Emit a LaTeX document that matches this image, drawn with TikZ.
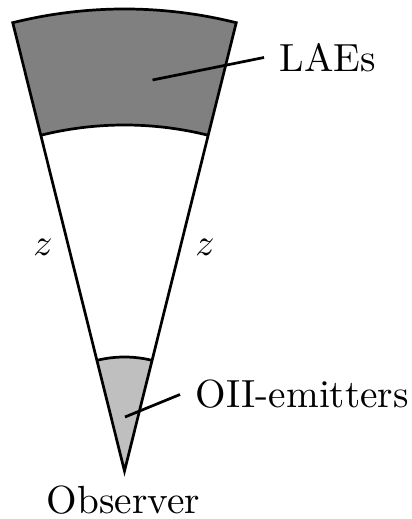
\documentclass[tikz,border=0pt]{standalone}
\begin{document}
\begin{tikzpicture}[x=0.265pt,y=0.265pt,
  edge/.style={line width=0.72pt},
  lbl/.style={inner sep=4pt, font=\fontsize{10.4}{12.5}\selectfont}]
\useasboundingbox (0,0) rectangle (412,519);
\coordinate (A) at (124.5,48);
\begin{scope}[shift={(A)}]
  % LAE shell
  \fill[black!50] (104:462) arc[start angle=104,end angle=76,radius=462]
     -- (76:346) arc[start angle=76,end angle=104,radius=346] -- cycle;
  % OII region
  \fill[black!25] (0,0) -- (104:114) arc[start angle=104,end angle=76,radius=114] -- cycle;
  % outline
  \draw[edge] (0,0) -- (104:462) arc[start angle=104,end angle=76,radius=462] -- cycle;
  \draw[edge] (104:346) arc[start angle=104,end angle=76,radius=346];
  \draw[edge] (104:114) arc[start angle=104,end angle=76,radius=114];
\end{scope}
\node[lbl, anchor=west] (lae) at (264,461.5) {LAEs};
\coordinate (lp) at (152.5,439);
\draw[edge] (lp) -- (lae.west);
\node[lbl, anchor=west] (oii) at (180,124.5) {OII-emitters};
\coordinate (op) at (125,102);
\draw[edge] (op) -- (oii.west);
\node[lbl] (zl) at (43,272) {$z$};
\node[lbl] (zr) at (205,272) {$z$};
\node[lbl] (obs) at (123.5,18.5) {Observer};
\end{tikzpicture}
\end{document}
